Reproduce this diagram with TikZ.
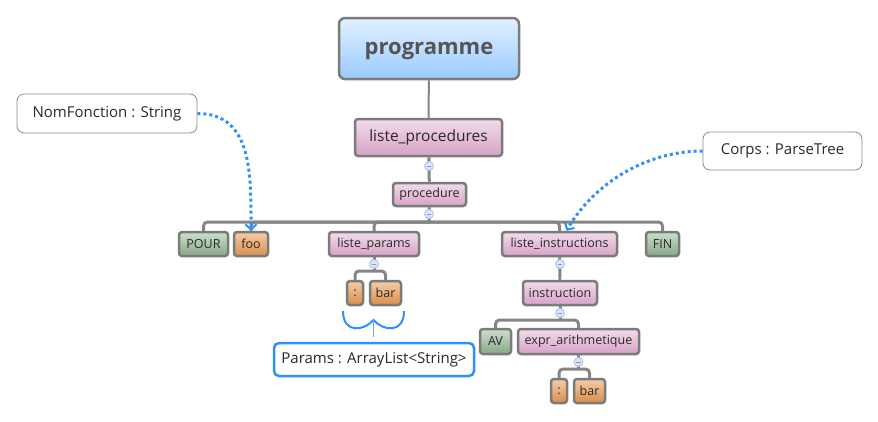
\documentclass[tikz,border=0pt]{standalone}
\usepackage{fontspec}
\setmainfont{Open Sans}
\usetikzlibrary{arrows.meta}

\definecolor{boxgray}{HTML}{7B7B7B}
\definecolor{linegray}{HTML}{858585}
\definecolor{notegray}{HTML}{8A8A8A}
\definecolor{txt}{HTML}{2A2A2A}
\definecolor{progt}{HTML}{E2F0FF}
\definecolor{progb}{HTML}{99CAFF}
\definecolor{rulet}{HTML}{F2DCEA}
\definecolor{ruleb}{HTML}{D6A2C6}
\definecolor{termt}{HTML}{CCDFCC}
\definecolor{termb}{HTML}{86A886}
\definecolor{idt}{HTML}{F4CCA6}
\definecolor{idb}{HTML}{D88E4C}
\definecolor{linkblue}{HTML}{2E8FFF}
\definecolor{foldfill}{HTML}{DCE6F8}
\definecolor{folddraw}{HTML}{A8C0E8}

\tikzset{
    box/.style={draw=boxgray, line width=2.5pt, rounded corners=3pt, inner sep=0pt, text=txt, font=\fontsize{12.5}{15}\selectfont},
    sz/.style 2 args={minimum width=#1pt, minimum height=#2pt},
    rule/.style={box, top color=rulet, bottom color=ruleb},
    term/.style={box, top color=termt, bottom color=termb},
    ident/.style={box, top color=idt, bottom color=idb},
    note/.style={draw=notegray, line width=0.8pt, rounded corners=7pt, fill=white, inner sep=0pt, text=txt, font=\fontsize{15}{18}\selectfont},
    branch/.style={linegray, line width=3pt},
    fold/.style={circle, draw=folddraw, fill=foldfill, line width=0.8pt, inner sep=0pt, minimum size=9pt,
        path picture={\draw[folddraw!80!black, line width=0.8pt] ([xshift=2.2pt]path picture bounding box.west) -- ([xshift=-2.2pt]path picture bounding box.east);}},
    link/.style={linkblue, line width=3pt, dash pattern=on 3pt off 3pt, -{Straight Barb[length=5pt, width=11pt, line width=2pt]}}
}

\begin{document}
\begin{tikzpicture}[x=1pt, y=-1pt]
    \useasboundingbox (0,0) rectangle (878,421);

    % root
    \node[box, sz={180}{61}, rounded corners=6pt, top color=progt, bottom color=progb, text=txt!80!white,
        text depth=0pt, font=\fontsize{22}{26}\selectfont\bfseries] (prog) at (429,48.5) {programme};
    \node[rule, sz={147}{37}, font=\fontsize{15.5}{18}\selectfont] (lproc) at (428.5,137.5) {liste\_procedures};
    \node[rule, sz={73}{23}] (proc) at (429.5,194.5) {procedure};

    % first level
    \node[term, sz={49}{24}] (pour) at (203.5,244) {POUR};
    \node[ident, sz={34}{24}] (foo) at (251,244) {foo};
    \node[rule, sz={90}{24}] (lparams) at (374,244) {liste\_params};
    \node[rule, sz={115}{24}] (linstr) at (559.5,244) {liste\_instructions};
    \node[term, sz={33}{24}] (fin) at (662.5,244) {FIN};

    % params
    \node[ident, sz={16}{24}] (colA) at (355,293) {:};
    \node[ident, sz={31}{24}] (barA) at (385.5,293) {bar};

    % instructions
    \node[rule, sz={74}{24}] (instr) at (560,293) {instruction};
    \node[term, sz={31}{25}] (av) at (495.5,341.5) {AV};
    \node[rule, sz={121}{25}] (expr) at (578.5,341.5) {expr\_arithmetique};
    \node[ident, sz={16}{24}] (colB) at (559,391) {:};
    \node[ident, sz={31}{24}] (barB) at (589.5,391) {bar};

    % junctions
    \coordinate (jproc) at (429,222);
    \coordinate (jparams) at (374,271);
    \coordinate (jinstr) at (560,320);
    \coordinate (jexpr) at (578.5,369);

    % branches
    \draw[linegray, line width=2pt] (prog) -- (lproc);
    \draw[branch] (lproc) -- (proc);
    \draw[branch] (proc) -- (jproc);
    \foreach \kid in {pour, foo, lparams, linstr, fin}
        \draw[branch, rounded corners=4pt] (jproc) -| (\kid.north);
    \draw[branch] (lparams) -- (jparams);
    \foreach \kid in {colA, barA}
        \draw[branch, rounded corners=4pt] (jparams) -| (\kid.north);
    \draw[branch] (linstr.south) -- (instr.north);
    \draw[branch] (instr) -- (jinstr);
    \foreach \kid in {av, expr}
        \draw[branch, rounded corners=4pt] (jinstr) -| (\kid.north);
    \draw[branch] (expr) -- (jexpr);
    \foreach \kid in {colB, barB}
        \draw[branch, rounded corners=4pt] (jexpr) -| (\kid.north);

    % fold buttons
    \node[fold] (f1) at (429,166) {};
    \node[fold] (f2) at (429,214) {};
    \node[fold] (f3) at (374,264) {};
    \node[fold] (f4) at (560,264) {};
    \node[fold] (f5) at (560,313) {};
    \node[fold] (f6) at (578.5,362) {};

    % annotations
    \node[note, sz={180}{39}] (nom) at (107,113.5) {NomFonction : String};
    \node[note, sz={159}{38}] (corps) at (782.5,151) {Corps : ParseTree};
    \node[note, sz={200}{33}, draw=linkblue, line width=2.5pt, rounded corners=5pt] (params) at (374,359.5) {Params : ArrayList<String>};

    \draw[link] (nom.east) to[out=0, in=90, looseness=1.1] (foo.north);
    \draw[link] (corps.west) to[out=180, in=60, looseness=0.9] ([xshift=7pt]linstr.north);

    % brace over the params
    \coordinate (brL) at (343,311);
    \coordinate (brR) at (404,311);
    \coordinate (brM) at (373.5,320);
    \coordinate (brT) at (373.5,337);
    \draw[linkblue, line width=2pt] (brL) .. controls (343,334) and (364,331) .. (brM)
        .. controls (383,331) and (404,334) .. (brR);
    \draw[linkblue!75, line width=1.6pt] (brM) -- (brT);
\end{tikzpicture}
\end{document}
